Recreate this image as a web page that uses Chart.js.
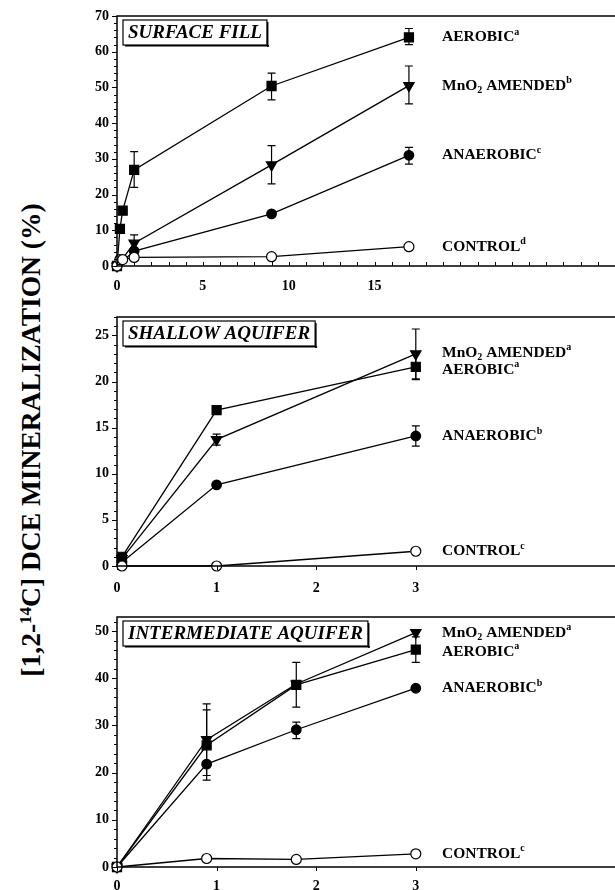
<!DOCTYPE html>
<html lang="en">
<head>
<meta charset="UTF-8">
<title>DCE mineralization</title>
<script src="https://cdn.jsdelivr.net/npm/chart.js"></script>
<style>
  body { margin: 0; background: #fff; width: 615px; height: 890px; position: relative; overflow: hidden; }
  canvas { position: absolute; left: 0; }
  #ytitle {
    position: absolute; left: 31px; top: 440px;
    transform: translate(-50%, -50%) rotate(-90deg);
    font: bold 27.5px "Liberation Serif", serif; white-space: nowrap; color: #000;
  }
  #ytitle sup { font-size: 17px; vertical-align: 9px; line-height: 0; }
</style>
</head>
<body>
<div id="ytitle">[1,2-<sup>14</sup>C] DCE MINERALIZATION (%)</div>
<canvas id="c1" width="615" height="300" style="top:0px"></canvas>
<canvas id="c2" width="615" height="300" style="top:300px"></canvas>
<canvas id="c3" width="615" height="300" style="top:590px"></canvas>

<script>
// ---- data (time in days, % mineralized) ----
// surface fill
const aer1X = [0, 0.17, 0.33, 1, 9, 17];
const aer1Y = [0, 10.4, 15.5, 26.9, 50.4, 64];
const aer1Err = [null, null, null, [22, 32], [46.5, 54], [62, 66.5]];
const mno1X = [0, 1, 9, 17];
const mno1Y = [0, 6.4, 28.3, 50.5];
const mno1Err = [null, [4, 8.7], [23, 33.7], [45.4, 56]];
const ana1X = [0, 1, 9, 17];
const ana1Y = [0, 4.2, 14.6, 31];
const ana1Err = [null, null, null, [28.5, 33.2]];
const ctl1X = [0, 0.17, 0.33, 1, 9, 17];
const ctl1Y = [0, 1.8, 1.8, 2.4, 2.6, 5.4];

// shallow aquifer
const t2 = [0.05, 1, 3];
const aer2Y = [1.0, 16.9, 21.6];
const aer2Err = [null, null, [20.2, 23.1]];
const mno2Y = [0.8, 13.7, 23.0];
const mno2Err = [null, [13.1, 14.3], [20.3, 25.7]];
const ana2Y = [0.4, 8.8, 14.1];
const ana2Err = [null, null, [13.0, 15.2]];
const ctl2Y = [0, 0, 1.6];

// intermediate aquifer
const t3 = [0, 0.9, 1.8, 3];
const mno3Y = [0, 27, 38.8, 49.7];
const mno3Err = [null, [19.4, 34.6], null, null];
const aer3Y = [0, 25.8, 38.6, 46.1];
const aer3Err = [null, [18.4, 33.3], [33.9, 43.4], [43.4, 48.8]];
const ana3Y = [0, 21.8, 29.1, 37.9];
const ana3Err = [null, null, [27.2, 30.7], null];
const ctl3Y = [0, 1.8, 1.6, 2.8];

const panelTitles = ['SURFACE FILL', 'SHALLOW AQUIFER', 'INTERMEDIATE AQUIFER'];
const supers1 = { aer: 'a', mno: 'b', ana: 'c', ctl: 'd' };
const supers2 = { aer: 'a', mno: 'a', ana: 'b', ctl: 'c' };
const supers3 = { aer: 'a', mno: 'a', ana: 'b', ctl: 'c' };

const xTicks1 = [0, 5, 10, 15];
const xTicks23 = [0, 1, 2, 3];

const SERIF = '"Liberation Serif", "Times New Roman", serif';

const zip = (xs, ys) => xs.map((x, i) => ({ x, y: ys[i] }));

const style = {
  aer: { pointStyle: 'rect', pointRadius: 6.4, backgroundColor: '#000', rotation: 0 },
  mno: { pointStyle: 'triangle', pointRadius: 6, backgroundColor: '#000', rotation: 180 },
  ana: { pointStyle: 'circle', pointRadius: 4.8, backgroundColor: '#000', rotation: 0 },
  ctl: { pointStyle: 'circle', pointRadius: 5, backgroundColor: '#fff', rotation: 0 }
};

const makeSet = (kind, xs, ys, err, sup) => ({
  kind, err, sup,
  data: zip(xs, ys),
  showLine: true,
  borderColor: '#000',
  borderWidth: 1.3,
  pointBorderColor: '#000',
  pointBorderWidth: 1.2,
  pointBackgroundColor: style[kind].backgroundColor,
  pointStyle: style[kind].pointStyle,
  pointRadius: style[kind].pointRadius,
  pointRotation: style[kind].rotation,
  clip: false
});

// error bars, frame, minor ticks, title box and series labels
const decor = {
  id: 'decor',
  beforeDatasetsDraw(chart) {
    const ctx = chart.ctx, xs = chart.scales.x, ys = chart.scales.y;
    ctx.save();
    ctx.strokeStyle = '#000';
    ctx.lineWidth = 1.2;
    chart.data.datasets.forEach(ds => {
      (ds.err || []).forEach((e, i) => {
        if (!e) return;
        const px = xs.getPixelForValue(ds.data[i].x);
        const lo = ys.getPixelForValue(e[0]), hi = ys.getPixelForValue(e[1]);
        ctx.beginPath();
        ctx.moveTo(px, lo); ctx.lineTo(px, hi);
        ctx.moveTo(px - 4, lo); ctx.lineTo(px + 4, lo);
        ctx.moveTo(px - 4, hi); ctx.lineTo(px + 4, hi);
        ctx.stroke();
      });
    });
    ctx.restore();
  },
  afterDraw(chart, args, opts) {
    const ctx = chart.ctx, a = chart.chartArea, xs = chart.scales.x, ys = chart.scales.y;
    ctx.save();
    ctx.strokeStyle = '#000';
    ctx.lineWidth = 1.5;
    ctx.beginPath();
    ctx.moveTo(chart.width, a.top); ctx.lineTo(a.left, a.top);
    ctx.lineTo(a.left, a.bottom); ctx.lineTo(chart.width, a.bottom);
    ctx.stroke();

    // y ticks (outside)
    ctx.lineWidth = 1;
    ctx.beginPath();
    for (let v = ys.min; v <= ys.max + 1e-6; v += opts.yMinor) {
      const py = Math.round(ys.getPixelForValue(v)) + 0.5;
      const major = Math.abs(v / opts.yMajor - Math.round(v / opts.yMajor)) < 1e-6;
      ctx.moveTo(a.left, py); ctx.lineTo(a.left - (major ? 5 : 3), py);
    }
    // x ticks
    for (let v = xs.min; v <= opts.xTickMax + 1e-6; v += opts.xMinor) {
      const px = Math.round(xs.getPixelForValue(v)) + 0.5;
      ctx.moveTo(px, a.bottom); ctx.lineTo(px, a.bottom + opts.xTickDir * 4);
    }
    ctx.stroke();

    // title box
    ctx.font = 'italic bold 19px ' + SERIF;
    const w = ctx.measureText(opts.title).width;
    const bx = a.left + 6, by = a.top + 4, bw = w + 10, bh = 25;
    ctx.fillStyle = '#fff';
    ctx.fillRect(bx, by, bw, bh);
    ctx.lineWidth = 1.2;
    ctx.strokeRect(bx, by, bw, bh);
    ctx.fillStyle = '#000';
    ctx.fillRect(bx + bw, by + 2, 1.5, bh);
    ctx.fillRect(bx + 2, by + bh, bw, 1.5);
    ctx.textBaseline = 'middle';
    ctx.fillText(opts.title, bx + 5, by + bh / 2 + 1);

    // series labels at the level of each last point
    const lx = a.left + 325;
    chart.data.datasets.forEach(ds => {
      const last = ds.data[ds.data.length - 1];
      const py = ys.getPixelForValue(last.y) + (opts.labelShift[ds.kind] || 0);
      let x = lx;
      const put = (t, size, dy) => {
        ctx.font = 'bold ' + size + 'px ' + SERIF;
        ctx.fillText(t, x, py + dy);
        x += ctx.measureText(t).width;
      };
      if (ds.kind === 'mno') { put('MnO', 15.5, 0); put('2', 10, 5); put(' AMENDED', 15.5, 0); }
      else put({ aer: 'AEROBIC', ana: 'ANAEROBIC', ctl: 'CONTROL' }[ds.kind], 15.5, 0);
      put(ds.sup, 10, -5);
    });
    ctx.restore();
  }
};

function makeChart(id, datasets, cfg) {
  return new Chart(document.getElementById(id), {
    type: 'scatter',
    data: { datasets },
    plugins: [decor],
    options: {
      responsive: false,
      animation: false,
      events: [],
      layout: { autoPadding: false, padding: { top: cfg.padTop, right: 0, left: 0, bottom: 0 } },
      plugins: {
        legend: { display: false },
        tooltip: { enabled: false },
        decor: cfg.decor
      },
      scales: {
        x: {
          type: 'linear', min: cfg.xMin, max: cfg.xMax,
          grid: { display: false }, border: { display: false },
          afterBuildTicks: s => { s.ticks = cfg.xTicks.map(v => ({ value: v })); },
          afterFit: s => { s.height = cfg.xHeight; },
          ticks: { padding: cfg.xPad, color: '#000', font: { family: SERIF, weight: 'bold', size: 14 } }
        },
        y: {
          type: 'linear', min: 0, max: cfg.yMax,
          grid: { display: false }, border: { display: false },
          afterBuildTicks: s => { s.ticks = cfg.yTicks.map(v => ({ value: v })); },
          afterFit: s => { s.width = 117; },
          ticks: { padding: 0, color: '#000', font: { family: SERIF, weight: 'bold', size: 14 } }
        }
      }
    }
  });
}

const range = (a, b, s) => { const r = []; for (let v = a; v <= b + 1e-9; v += s) r.push(v); return r; };

makeChart('c1', [
  makeSet('ctl', ctl1X, ctl1Y, null, supers1.ctl),
  makeSet('aer', aer1X, aer1Y, aer1Err, supers1.aer),
  makeSet('mno', mno1X, mno1Y, mno1Err, supers1.mno),
  makeSet('ana', ana1X, ana1Y, ana1Err, supers1.ana)
], {
  padTop: 16, xHeight: 34, xPad: 4, xMin: 0, xMax: 29, yMax: 70,
  xTicks: xTicks1, yTicks: range(0, 70, 10),
  decor: { title: panelTitles[0], yMinor: 2, yMajor: 10, xMinor: 1, xTickMax: 28, xTickDir: -1, labelShift: {} }
});

makeChart('c2', [
  makeSet('ctl', t2, ctl2Y, null, supers2.ctl),
  makeSet('aer', t2, aer2Y, aer2Err, supers2.aer),
  makeSet('mno', t2, mno2Y, mno2Err, supers2.mno),
  makeSet('ana', t2, ana2Y, ana2Err, supers2.ana)
], {
  padTop: 17, xHeight: 34, xPad: 6, xMin: 0, xMax: 5, yMax: 27,
  xTicks: xTicks23, yTicks: range(0, 25, 5),
  decor: { title: panelTitles[1], yMinor: 1, yMajor: 5, xMinor: 1, xTickMax: 3, xTickDir: 1, labelShift: { mno: -1, aer: 3 } }
});

makeChart('c3', [
  makeSet('ctl', t3, ctl3Y, null, supers3.ctl),
  makeSet('aer', t3, aer3Y, aer3Err, supers3.aer),
  makeSet('mno', t3, mno3Y, mno3Err, supers3.mno),
  makeSet('ana', t3, ana3Y, ana3Err, supers3.ana)
], {
  padTop: 27, xHeight: 23, xPad: 3, xMin: 0, xMax: 5, yMax: 53,
  xTicks: xTicks23, yTicks: range(0, 50, 10),
  decor: { title: panelTitles[2], yMinor: 2, yMajor: 10, xMinor: 1, xTickMax: 3, xTickDir: 1, labelShift: { aer: 2 } }
});
</script>
</body>
</html>
